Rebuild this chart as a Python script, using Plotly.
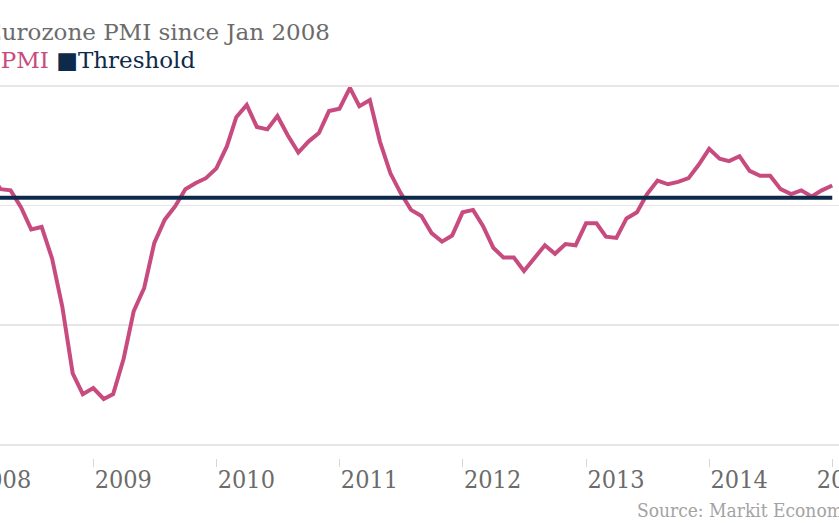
import pandas as pd
import plotly.graph_objects as go

# ---------------- data ----------------
months = pd.date_range("2008-01-01", "2015-01-01", freq="MS")

pmi = [
    # 2008
    52.8, 52.3, 52.0, 50.7, 50.6, 49.2, 47.4, 47.6, 45.0, 41.1, 35.6, 33.9,
    # 2009
    34.4, 33.5, 33.9, 36.8, 40.7, 42.6, 46.3, 48.2, 49.3, 50.7, 51.2, 51.6,
    # 2010
    52.4, 54.2, 56.6, 57.6, 55.8, 55.6, 56.7, 55.1, 53.7, 54.6, 55.3, 57.1,
    # 2011
    57.3, 59.0, 57.5, 58.0, 54.6, 52.0, 50.4, 49.0, 48.5, 47.1, 46.4, 46.9,
    # 2012
    48.8, 49.0, 47.7, 45.9, 45.1, 45.1, 44.0, 45.1, 46.1, 45.4, 46.2, 46.1,
    # 2013
    47.9, 47.9, 46.8, 46.7, 48.3, 48.8, 50.3, 51.4, 51.1, 51.3, 51.6, 52.7,
    # 2014
    54.0, 53.2, 53.0, 53.4, 52.2, 51.8, 51.8, 50.7, 50.3, 50.6, 50.1, 50.6,
    # 2015
    51.0,
]

threshold_dates = ["2008-01-01", "2015-01-01"]
threshold_values = [50, 50]

year_ticks = ["2009-01-01", "2010-01-01", "2011-01-01", "2012-01-01",
              "2013-01-01", "2014-01-01"]
year_labels = ["2009", "2010", "2011", "2012", "2013", "2014"]
last_tick = ["2015-01-01"]
last_label = ["2015"]
first_tick = "2008-01-01"
first_label = "2008"

title_text = "Eurozone PMI since Jan 2008"
source_text = "Source: Markit Economics"

# ---------------- styling / layout ----------------
W, H = 839, 523
PINK = "#c84b80"
NAVY = "#0d2a4b"
GRID = "#e6e6e6"
TXT = "#6b6b6b"
SERIF = "DejaVu Serif"
COND = "DejaVu Serif Condensed"

PLOT_TOP, PLOT_BOT = 80, 458
PX_PER_UNIT = 12.2
Y_AT_50 = 197.7
y_top = 50 + (Y_AT_50 - PLOT_TOP) / PX_PER_UNIT
y_bot = 50 - (PLOT_BOT - Y_AT_50) / PX_PER_UNIT

X0 = pd.Timestamp("2008-03-30 12:00")
X1 = pd.Timestamp("2015-01-21 00:00")


def py(pix):
    return (PLOT_BOT - pix) / (PLOT_BOT - PLOT_TOP)


def date_frac(d):
    d = pd.Timestamp(d)
    return (d - X0) / (X1 - X0)


fig = go.Figure()
fig.add_trace(go.Scatter(
    x=months, y=pmi, mode="lines", name="PMI",
    line=dict(color=PINK, width=4), cliponaxis=False,
    hoverinfo="skip",
))
fig.add_trace(go.Scatter(
    x=threshold_dates, y=threshold_values, mode="lines", name="Threshold",
    line=dict(color=NAVY, width=4), xaxis="x2",
    hoverinfo="skip",
))

common_x = dict(
    type="date", range=[X0, X1], showgrid=False, zeroline=False,
    showline=False, ticks="outside", ticklen=8, tickwidth=1,
    tickcolor="#d6d6d6", tickfont=dict(family=COND, size=25, color=TXT),
    ticklabeloverflow="allow", ticklabelstandoff=-9, fixedrange=True,
)

fig.update_layout(
    width=W, height=H,
    margin=dict(l=0, r=0, t=PLOT_TOP, b=H - PLOT_BOT, pad=0, autoexpand=False),
    paper_bgcolor="white", plot_bgcolor="white",
    showlegend=False,
    xaxis=dict(**common_x, tickmode="array", tickvals=year_ticks,
               ticktext=year_labels, ticklabelshift=30),
    xaxis2=dict(**common_x, overlaying="x", anchor="y", side="bottom",
                tickmode="array", tickvals=last_tick, ticktext=last_label,
                ticklabelshift=13),
    yaxis=dict(range=[y_bot, y_top], tick0=29.75, dtick=9.8,
               showgrid=True, gridcolor=GRID, gridwidth=1.5,
               showticklabels=False, zeroline=False, showline=False,
               ticks="", fixedrange=True),
    annotations=[
        dict(text=title_text, xref="paper", yref="paper",
             x=332 / W, y=py(32), xanchor="right", yanchor="middle",
             showarrow=False, font=dict(family=SERIF, size=23, color=TXT)),
        dict(text=(f"<span style='color:{PINK}'>■PMI</span> "
                   f"<span style='color:{NAVY}'>■Threshold</span>"),
             xref="paper", yref="paper",
             x=197 / W, y=py(60), xanchor="right", yanchor="middle",
             showarrow=False, font=dict(family=SERIF, size=23, color=NAVY)),
        dict(text=first_label, xref="paper", yref="paper",
             x=date_frac(first_tick), y=py(479), xanchor="left",
             yanchor="middle", xshift=2, showarrow=False,
             font=dict(family=COND, size=25, color=TXT)),
        dict(text=source_text, xref="paper", yref="paper",
             x=635 / W, y=py(510), xanchor="left", yanchor="middle",
             showarrow=False, font=dict(family=COND, size=19, color="#a3a3a3")),
    ],
)

fig.write_html(
    "out.html",
    config={"displayModeBar": False, "staticPlot": True},
    post_script="document.body.style.margin='0';document.body.style.overflow='hidden';",
)
